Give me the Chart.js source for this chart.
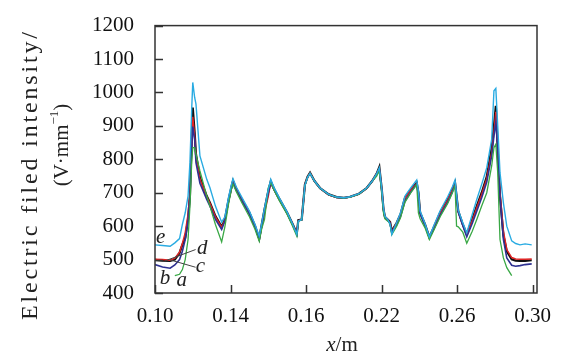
<!DOCTYPE html>
<html>
<head>
<meta charset="utf-8">
<script src="https://cdn.jsdelivr.net/npm/chart.js@4.4.0/dist/chart.umd.min.js"></script>
<style>
  html, body { margin: 0; padding: 0; background: #fff; }
</style>
</head>
<body>
<canvas id="chart" width="567" height="362"></canvas>
<script>
// positions along the conductor (m)
const xs = [
  0.100, 0.104, 0.108, 0.1105, 0.113, 0.1145, 0.116, 0.1175, 0.1185, 0.1195,
  0.1200, 0.1210, 0.1217, 0.1238, 0.1274, 0.1291, 0.1320, 0.1353, 0.1370, 0.1390,
  0.1405, 0.1413, 0.1430, 0.1460, 0.1500, 0.1530, 0.1552, 0.1565, 0.1580, 0.1600,
  0.1613, 0.1630, 0.1660, 0.1700, 0.1730, 0.1751, 0.1759, 0.1777, 0.1794, 0.1808,
  0.1821, 0.1845, 0.1874, 0.1920, 0.1962, 0.2000, 0.2033, 0.2080, 0.2121, 0.2150,
  0.2174, 0.2188, 0.2201, 0.2210, 0.2218, 0.2235, 0.2245, 0.2254, 0.2280, 0.2300,
  0.2324, 0.2355, 0.2386, 0.2395, 0.2404, 0.2430, 0.2453, 0.2474, 0.2510, 0.2550,
  0.2575, 0.2589, 0.2597, 0.2606, 0.2630, 0.2651, 0.2680, 0.2704, 0.2730, 0.2757,
  0.2783, 0.2795, 0.2805, 0.2815, 0.2827, 0.2845, 0.2863, 0.2889, 0.2910, 0.2933,
  0.2960, 0.2995
];

// electric field intensity (V/mm) per curve
const curveA = [
  null, null, null, 452, 456, 470, 500, 560, 660, 800,
  835, 835, 815, 765, 690, 660, 605, 553, 598, 668,
  710, 726, 704, 670, 628, 590, 555, 592, 620, 715,
  730, 708, 675, 635, 598, 570, 615, 619, 722, 746,
  758, 734, 713, 694, 686, 684, 687, 696, 713, 734,
  750, 765, 700, 640, 622, 614, 606, 575, 600, 625,
  672, 700, 724, 640, 622, 595, 560, 585, 628, 668,
  700, 722, 600, 598, 582, 549, 585, 620, 660, 700,
  780, 835, 845, 760, 560, 505, 476, 452, null, null,
  null, null
];
const curveB = [
  485, 478, 474, 484, 500, 525, 560, 615, 690, 840,
  898, 860, 790, 728, 680, 660, 620, 590, 615, 676,
  714, 731, 708, 676, 636, 596, 560, 600, 646, 700,
  731, 710, 678, 638, 603, 577, 616, 619, 723, 746,
  758, 734, 713, 694, 686, 684, 687, 696, 713, 734,
  755, 770, 706, 649, 625, 616, 610, 583, 604, 628,
  675, 702, 726, 696, 638, 602, 565, 588, 632, 672,
  702, 726, 686, 642, 602, 568, 608, 645, 685, 732,
  810, 870, 912, 830, 690, 560, 505, 483, 480, 482,
  485, 487
];
const curveC = [
  501, 500, 498, 504, 522, 548, 580, 635, 700, 860,
  927, 870, 805, 740, 688, 668, 628, 596, 618, 678,
  716, 733, 710, 678, 638, 598, 562, 600, 640, 690,
  732, 710, 678, 638, 603, 578, 616, 620, 724, 747,
  759, 734, 713, 694, 686, 684, 687, 696, 713, 734,
  756, 772, 708, 650, 626, 617, 611, 584, 609, 634,
  683, 708, 728, 698, 640, 604, 566, 592, 638, 678,
  708, 728, 688, 644, 604, 574, 616, 655, 695, 742,
  820, 880, 942, 840, 700, 585, 530, 506, 502, 501,
  501, 502
];
const curveD = [
  499, 497, 496, 500, 520, 545, 565, 620, 690, 870,
  955, 880, 815, 745, 690, 670, 630, 598, 620, 680,
  718, 735, 712, 680, 640, 600, 563, 604, 650, 705,
  734, 712, 680, 640, 605, 578, 618, 620, 725, 748,
  760, 735, 714, 695, 687, 685, 688, 697, 714, 735,
  757, 777, 710, 651, 627, 618, 612, 585, 610, 635,
  685, 710, 730, 700, 640, 605, 567, 593, 640, 680,
  710, 730, 690, 645, 605, 575, 620, 660, 700, 748,
  835, 900, 960, 830, 690, 573, 525, 501, 497, 496,
  496, 498
];
const curveE = [
  544, 542, 540, 550, 563, 605, 640, 690, 790, 960,
  1030, 985, 965, 810, 740, 715, 660, 612, 628, 688,
  725, 742, 718, 686, 645, 605, 570, 608, 655, 710,
  740, 716, 683, 642, 605, 575, 615, 620, 722, 746,
  758, 735, 714, 695, 687, 685, 688, 697, 714, 735,
  757, 775, 712, 655, 630, 618, 605, 575, 612, 640,
  690, 715, 738, 705, 645, 608, 568, 598, 646, 688,
  718, 738, 695, 648, 610, 580, 635, 680, 725, 775,
  860, 1005, 1012, 900, 760, 670, 600, 556, 548, 544,
  547, 544
];

const xTickVals = [0.10, 0.14, 0.18, 0.22, 0.26, 0.30];
const xTickLabels = ['0.10', '0.14', '0.16', '0.22', '0.26', '0.30'];

const serif = "'Liberation Serif', 'Times New Roman', serif";

function pts(ys) {
  return xs.map((x, i) => ({ x: x, y: ys[i] }));
}

// curve tags: [text, x, y] in data units, plus leader lines
const tags = [
  ['e', 0.1030, 566],
  ['d', 0.1250, 534],
  ['c', 0.1240, 478],
  ['b', 0.1053, 444],
  ['a', 0.1142, 438]
];
const leaders = [
  [0.1053, 496, 0.1215, 530],
  [0.1080, 499, 0.1215, 477]
];

// draw text stretched to a given length (the figure's y title runs long)
function spreadText(ctx, text, cx, cy, total) {
  const widths = [...text].map(ch => ctx.measureText(ch).width);
  const natural = widths.reduce((s, w) => s + w, 0);
  const gap = (total - natural) / (widths.length - 1);
  let x = cx - total / 2;
  ctx.textAlign = 'left';
  [...text].forEach((ch, i) => {
    ctx.fillText(ch, x, cy);
    x += widths[i] + gap;
  });
}

const framePlugin = {
  id: 'frame',
  afterDraw(chart) {
    const ctx = chart.ctx;
    const a = chart.chartArea;
    const sx = chart.scales.x, sy = chart.scales.y;
    ctx.save();
    ctx.strokeStyle = '#333';
    ctx.lineWidth = 1.5;
    ctx.strokeRect(a.left, a.top, a.right - a.left, a.bottom - a.top);

    // inward tick marks
    ctx.beginPath();
    sy.ticks.forEach(t => {
      const py = Math.round(sy.getPixelForValue(t.value)) + 0.5;
      ctx.moveTo(a.left, py);
      ctx.lineTo(a.left + 8, py);
    });
    xTickVals.forEach(v => {
      const px = Math.round(sx.getPixelForValue(v)) + 0.5;
      ctx.moveTo(px, a.bottom);
      ctx.lineTo(px, a.bottom - 8);
    });
    ctx.stroke();

    // leader lines + curve tags
    ctx.strokeStyle = '#444';
    ctx.lineWidth = 1;
    ctx.beginPath();
    leaders.forEach(l => {
      ctx.moveTo(sx.getPixelForValue(l[0]), sy.getPixelForValue(l[1]));
      ctx.lineTo(sx.getPixelForValue(l[2]), sy.getPixelForValue(l[3]));
    });
    ctx.stroke();

    ctx.fillStyle = '#222';
    ctx.font = 'italic 21px ' + serif;
    ctx.textAlign = 'center';
    ctx.textBaseline = 'middle';
    tags.forEach(t => {
      ctx.fillText(t[0], sx.getPixelForValue(t[1]), sy.getPixelForValue(t[2]));
    });

    // y title, two rotated lines
    ctx.font = '24px ' + serif;
    ctx.save();
    ctx.translate(31, 176);
    ctx.rotate(-Math.PI / 2);
    spreadText(ctx, 'Electric filed intensity/', 0, 0, 288);
    ctx.restore();

    ctx.save();
    ctx.translate(62, 145);
    ctx.rotate(-Math.PI / 2);
    const p1 = '(V·mm', p2 = '−1', p3 = ')';
    ctx.font = '21px ' + serif;
    const w1 = ctx.measureText(p1).width, w3 = ctx.measureText(p3).width;
    ctx.font = '13px ' + serif;
    const w2 = ctx.measureText(p2).width;
    let cx = -(w1 + w2 + w3) / 2;
    ctx.textAlign = 'left';
    ctx.font = '21px ' + serif;
    ctx.fillText(p1, cx, 0);
    ctx.font = '13px ' + serif;
    ctx.fillText(p2, cx + w1, -7);
    ctx.font = '21px ' + serif;
    ctx.fillText(p3, cx + w1 + w2, 0);
    ctx.restore();

    // x title
    ctx.textAlign = 'left';
    ctx.font = 'italic 21px ' + serif;
    const wx = ctx.measureText('x').width;
    ctx.font = '21px ' + serif;
    const wm = ctx.measureText('/m').width;
    const tx = 342 - (wx + wm) / 2;
    ctx.font = 'italic 21px ' + serif;
    ctx.fillText('x', tx, 345);
    ctx.font = '21px ' + serif;
    ctx.fillText('/m', tx + wx, 345);
    ctx.restore();
  }
};

function line(label, ys, color, width) {
  return {
    label: label,
    data: pts(ys),
    borderColor: color,
    borderWidth: width,
    pointRadius: 0,
    fill: false,
    spanGaps: false
  };
}

new Chart(document.getElementById('chart'), {
  type: 'line',
  data: {
    datasets: [
      line('e', curveE, '#29abe2', 1.4),
      line('a', curveA, '#39a845', 1.3),
      line('b', curveB, '#2e3192', 1.6),
      line('c', curveC, '#e02424', 1.5),
      line('d', curveD, '#111111', 2.2)
    ]
  },
  options: {
    responsive: false,
    animation: false,
    layout: { padding: { left: 0, top: 17, right: 30, bottom: 0 } },
    plugins: { legend: { display: false }, tooltip: { enabled: false } },
    elements: { line: { tension: 0 } },
    scales: {
      x: {
        type: 'linear',
        min: 0.1,
        max: 0.3023,
        grid: { display: false },
        border: { display: false },
        afterBuildTicks: s => { s.ticks = xTickVals.map(v => ({ value: v })); },
        afterFit: s => { s.height = 69; },
        ticks: {
          color: '#111',
          font: { family: serif, size: 21 },
          padding: 3,
          maxRotation: 0,
          autoSkip: false,
          callback: (v, i) => xTickLabels[i]
        }
      },
      y: {
        min: 400,
        max: 1200,
        grid: { display: false },
        border: { display: false },
        afterFit: s => { s.width = 155; },
        ticks: {
          stepSize: 100,
          color: '#111',
          font: { family: serif, size: 21 },
          padding: 13,
          callback: v => String(v)
        }
      }
    }
  },
  plugins: [framePlugin]
});
</script>
</body>
</html>
